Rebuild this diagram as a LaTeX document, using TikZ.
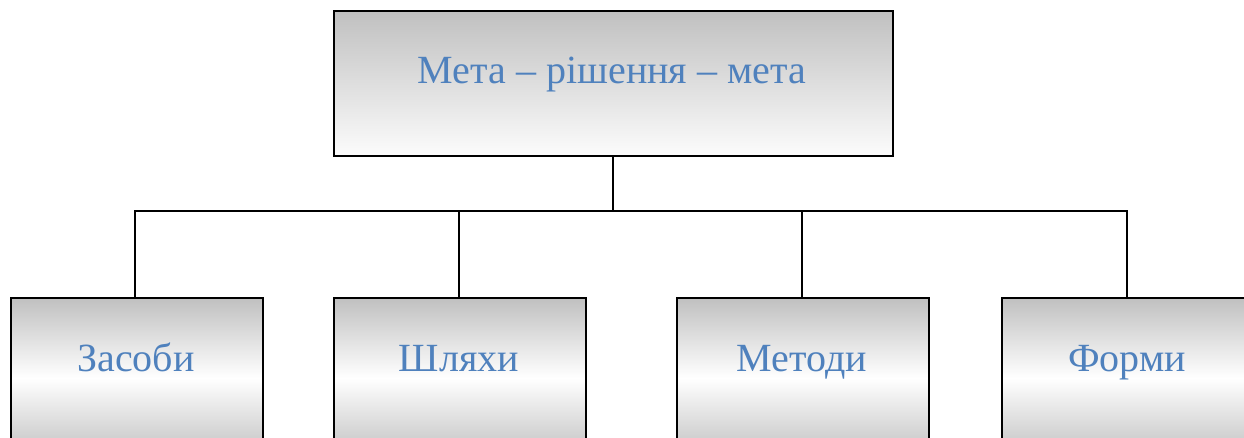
\documentclass[tikz,border=0pt]{standalone}
\usepackage{fontspec}
\setmainfont{Liberation Serif}
\definecolor{txtblue}{HTML}{4F81BD}
\definecolor{boxgray}{HTML}{C0C0C0}
\definecolor{boxwhite}{HTML}{FCFCFC}
\begin{document}
\begin{tikzpicture}[x=1pt,y=-1pt,
  topbox/.style={draw=black,line width=2pt,top color=boxgray,bottom color=boxwhite,
    minimum width=559pt,minimum height=145pt,inner sep=0pt,anchor=north west},
  leafbox/.style={draw=black,line width=2pt,top color=boxgray,bottom color=boxgray,middle color=white,
    minimum width=252pt,minimum height=160pt,inner sep=0pt,anchor=north west},
  lbl/.style={text=txtblue,font=\fontsize{40}{44}\selectfont,anchor=base,inner sep=0pt},
  conn/.style={draw=black,line width=2pt}]
\useasboundingbox (0,0) rectangle (1244,437);
\node[topbox] (top) at (333,10) {};
\node[leafbox] (b1) at (10,297) {};
\node[leafbox] (b2) at (333,297) {};
\node[leafbox] (b3) at (676,297) {};
\node[leafbox] (b4) at (1001,297) {};
\node[lbl] (t0) at (612,83) {Мета – рішення – мета};
\node[lbl] (t1) at (136,371) {Засоби};
\node[lbl] (t2) at (459,371) {Шляхи};
\node[lbl] (t3) at (802,371) {Методи};
\node[lbl] (t4) at (1127,371) {Форми};
\coordinate (hub) at (613,211);
\coordinate (hl) at (135,211);
\coordinate (hr) at (1127,211);
\draw[conn] (top.south -| hub) -- (hub);
\draw[conn,line cap=rect] (hl) -- (hr);
\draw[conn] (hl) -- (b1.north -| hl);
\draw[conn] (459,211) -- (b2.north -| 459,0);
\draw[conn] (802,211) -- (b3.north -| 802,0);
\draw[conn] (hr) -- (b4.north -| hr);
\end{tikzpicture}
\end{document}
